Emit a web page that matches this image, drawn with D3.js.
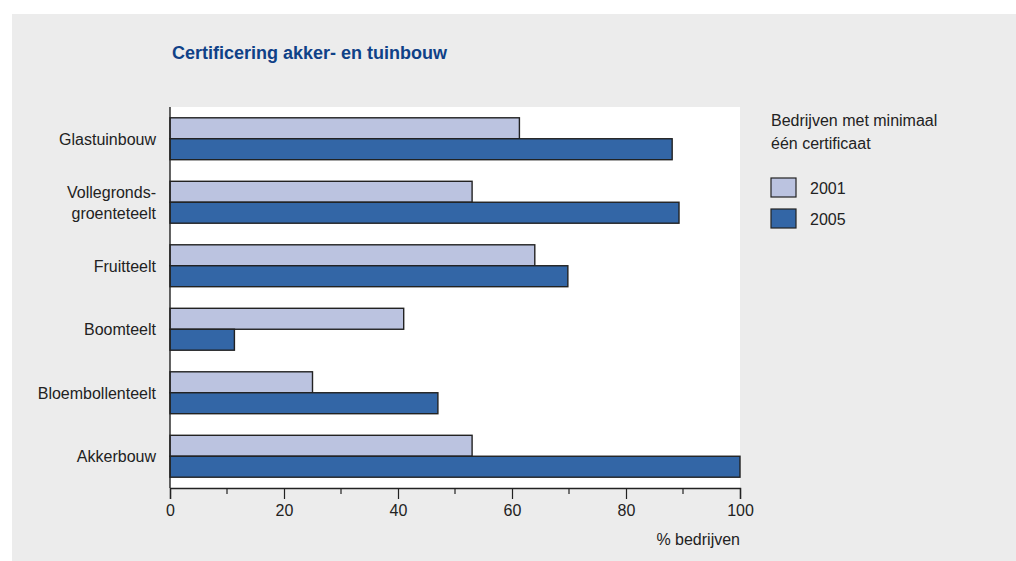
<!DOCTYPE html>
<html>
<head>
<meta charset="utf-8">
<script src="https://cdn.jsdelivr.net/npm/d3@7"></script>
<style>
  body { margin: 0; background: #fff; }
  svg text { font-family: "Liberation Sans Narrow", "Arial Narrow", "Liberation Sans", Arial, sans-serif; }
</style>
</head>
<body>
<svg id="chart" width="1016" height="561"></svg>
<script>
const categories = ["Glastuinbouw", "Vollegronds-\ngroenteteelt", "Fruitteelt", "Boomteelt", "Bloembollenteelt", "Akkerbouw"];
const values2001 = [61.3, 53, 64, 41, 25, 53];
const values2005 = [88.1, 89.3, 69.8, 11.3, 47, 100];
const seriesNames = ["2001", "2005"];
const xTicks = [0, 20, 40, 60, 80, 100];
const xMinorTicks = [10, 30, 50, 70, 90];

const colors = { "2001": "#bbc3e0", "2005": "#3366a6" };

const svg = d3.select("#chart");

// grey panel
svg.append("rect")
    .attr("x", 12).attr("y", 14)
    .attr("width", 1004).attr("height", 547)
    .attr("fill", "#ececec");

const margin = { top: 107, left: 170 },
      width = 570,
      height = 381;

const x = d3.scaleLinear().domain([0, 100]).range([0, width]);
const y = d3.scaleBand().domain(categories).range([0, height]).paddingInner(0.34).paddingOuter(0.17);
const ySeries = d3.scaleBand().domain(seriesNames).range([0, y.bandwidth()]);

const g = svg.append("g").attr("transform", `translate(${margin.left},${margin.top})`);

g.append("rect")
    .attr("width", width).attr("height", height)
    .attr("fill", "#fff");

const data = [];
categories.forEach((c, i) => {
    data.push({ cat: c, series: "2001", value: values2001[i] });
    data.push({ cat: c, series: "2005", value: values2005[i] });
});

g.selectAll(".bar")
    .data(data)
    .enter().append("rect")
    .attr("class", "bar")
    .attr("x", 0)
    .attr("y", d => y(d.cat) + ySeries(d.series))
    .attr("width", d => x(d.value))
    .attr("height", ySeries.bandwidth())
    .attr("fill", d => colors[d.series])
    .attr("stroke", "#222")
    .attr("stroke-width", 1.4);

// left axis line
g.append("line")
    .attr("x1", 0).attr("x2", 0)
    .attr("y1", 0).attr("y2", height)
    .attr("stroke", "#222").attr("stroke-width", 1.4);

// category labels
categories.forEach(c => {
    const lines = c.split("\n");
    const cy = y(c) + y.bandwidth() / 2;
    const t = g.append("text")
        .attr("x", -14)
        .attr("text-anchor", "end")
        .attr("font-size", 16)
        .attr("fill", "#222");
    lines.forEach((ln, i) => {
        t.append("tspan")
            .attr("x", -14)
            .attr("y", cy + 6 + (i - (lines.length - 1) / 2) * 21)
            .text(ln);
    });
});

// bottom axis
const xAxis = g.append("g")
    .attr("transform", `translate(0,${height})`)
    .call(d3.axisBottom(x).tickValues(xTicks).tickSize(11).tickPadding(6).tickFormat(d3.format("d")));
xAxis.select(".domain").attr("stroke", "#222").attr("stroke-width", 1.4);
xAxis.selectAll(".tick line").attr("stroke", "#222").attr("stroke-width", 1.2);
xAxis.selectAll(".tick text")
    .attr("font-size", 16)
    .attr("fill", "#222")
    .attr("font-family", "\"Liberation Sans Narrow\", \"Arial Narrow\", Arial, sans-serif");

g.append("g")
    .attr("transform", `translate(0,${height})`)
    .selectAll("line")
    .data(xMinorTicks)
    .enter().append("line")
    .attr("x1", d => x(d)).attr("x2", d => x(d))
    .attr("y1", 0).attr("y2", 6)
    .attr("stroke", "#222").attr("stroke-width", 1.2);

g.append("text")
    .attr("x", width)
    .attr("y", height + 57)
    .attr("text-anchor", "end")
    .attr("font-size", 16)
    .attr("fill", "#222")
    .text("% bedrijven");

// title
svg.append("text")
    .attr("x", 172).attr("y", 59)
    .attr("font-size", 18)
    .attr("font-weight", "bold")
    .attr("fill", "#0f4187")
    .text("Certificering akker- en tuinbouw");

// legend
const legend = svg.append("g").attr("transform", "translate(771,0)");
legend.append("text")
    .attr("font-size", 16).attr("fill", "#222")
    .selectAll("tspan")
    .data(["Bedrijven met minimaal", "één certificaat"])
    .enter().append("tspan")
    .attr("x", 0)
    .attr("y", (d, i) => 126 + i * 23)
    .text(d => d);

seriesNames.forEach((s, i) => {
    legend.append("rect")
        .attr("x", 0).attr("y", 178 + i * 31)
        .attr("width", 25).attr("height", 19)
        .attr("fill", colors[s])
        .attr("stroke", "#222").attr("stroke-width", 1.2);
    legend.append("text")
        .attr("x", 39).attr("y", 194 + i * 31)
        .attr("font-size", 16).attr("fill", "#222")
        .text(s);
});
</script>
</body>
</html>
